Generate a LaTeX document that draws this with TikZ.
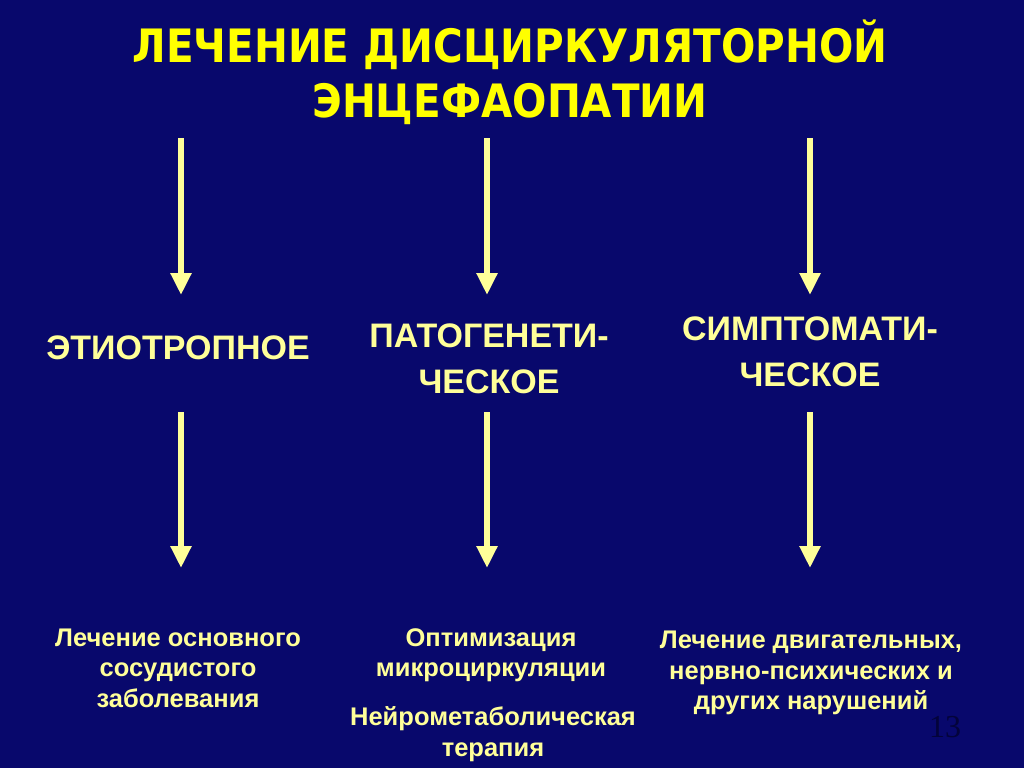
\documentclass[tikz,border=0pt]{standalone}
\usepackage{fontspec}
\setmainfont{Liberation Sans}
\newfontfamily\titlefont[FakeStretch=0.88]{DejaVu Sans}
\newfontfamily\numfont{Liberation Serif}
\usetikzlibrary{arrows.meta}

\definecolor{navy}{HTML}{08086C}
\definecolor{cream}{HTML}{FFFF99}
\definecolor{titleyellow}{HTML}{FFFF00}
\definecolor{pagenum}{HTML}{03033A}

\begin{document}
\begin{tikzpicture}[x=1pt, y=-1pt,
	title/.style = {font=\titlefont\bfseries\fontsize{46}{55}\selectfont,
		text=titleyellow, align=center},
	kind/.style = {font=\bfseries\fontsize{34}{46}\selectfont,
		text=cream, align=center},
	detail/.style = {font=\bfseries\fontsize{25.5}{30.5}\selectfont,
		text=cream, align=center},
	arr/.style = {draw=cream, line width=6pt,
		-{Triangle[width=20pt, length=22pt]}}]
	\fill[navy] (0,0) rectangle (1024,768);
	\node[title] (head) at (510,72) {ЛЕЧЕНИЕ ДИСЦИРКУЛЯТОРНОЙ\\ЭНЦЕФАОПАТИИ};
	% first row of arrows
	\coordinate (etio-in) at (181,138);
	\coordinate (etio-at) at (181,295);
	\coordinate (pato-in) at (487,138);
	\coordinate (pato-at) at (487,295);
	\coordinate (symp-in) at (810,138);
	\coordinate (symp-at) at (810,295);
	\draw[arr] (etio-in) -- (etio-at);
	\draw[arr] (pato-in) -- (pato-at);
	\draw[arr] (symp-in) -- (symp-at);
	\node[kind] (etio) at (178,348) {ЭТИОТРОПНОЕ};
	\node[kind] (pato) at (489,359) {ПАТОГЕНЕТИ-\\ЧЕСКОЕ};
	\node[kind] (symp) at (810,352) {СИМПТОМАТИ-\\ЧЕСКОЕ};
	% second row of arrows
	\coordinate (etio-out) at (181,412);
	\coordinate (etio-to) at (181,568);
	\coordinate (pato-out) at (487,412);
	\coordinate (pato-to) at (487,568);
	\coordinate (symp-out) at (810,412);
	\coordinate (symp-to) at (810,568);
	\draw[arr] (etio-out) -- (etio-to);
	\draw[arr] (pato-out) -- (pato-to);
	\draw[arr] (symp-out) -- (symp-to);
	\node[detail] (cause) at (178,668) {Лечение основного\\сосудистого\\заболевания};
	\node[detail] (micro) at (491,655) {Оптимизация\\микроциркуляции};
	\node[detail] (neuro) at (493,734) {Нейрометаболическая\\терапия};
	\node[detail] (disorder) at (811,673) {Лечение двигательных,\\нервно-психических и\\других нарушений};
	\node[font=\numfont\fontsize{32}{32}\selectfont, text=pagenum] (page) at (945,727) {13};
\end{tikzpicture}
\end{document}
